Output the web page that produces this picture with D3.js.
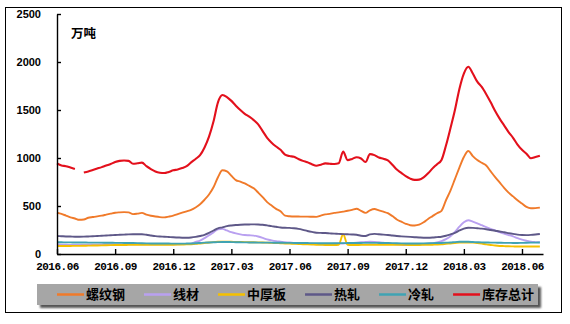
<!DOCTYPE html>
<html>
<head>
<meta charset="utf-8">
<script src="https://cdn.jsdelivr.net/npm/d3@7"></script>
<style>
  body { margin: 0; background: #fff; }
  svg { display: block; }
</style>
</head>
<body>
<div id="canvas"></div>
<script>
// weekly inventory, 10k tonnes
const names = ["螺纹钢", "线材", "中厚板", "热轧", "冷轧", "库存总计"];
const colors = ["#f07a2a", "#b9a0f0", "#f5c000", "#5e5888", "#3fa3b3", "#e3101c"];
const tickLabels = ["2016.06", "2016.09", "2016.12", "2017.03", "2017.06", "2017.09", "2017.12", "2018.03", "2018.06"];
const tickWeeks = [0, 13, 26, 39, 52, 65, 78, 91, 104];
const yTicks = [0, 500, 1000, 1500, 2000, 2500];

const rebar = [430, 418, 400, 382, 370, 356, 360, 378, 385, 392, 400, 410, 420, 430, 434, 436, 434, 415, 420, 428,
  410, 398, 390, 384, 382, 390, 400, 415, 430, 445, 460, 485, 518, 565, 620, 695, 800, 872, 860, 815,
  770, 755, 735, 710, 684, 640, 592, 540, 505, 470, 445, 400, 393, 390, 390, 389, 389, 388, 387, 400,
  413, 418, 428, 434, 442, 450, 460, 472, 450, 428, 455, 468, 455, 441, 425, 395, 360, 337, 315, 300,
  297, 305, 330, 365, 395, 425, 450, 560, 660, 780, 900, 1010, 1073, 1020, 979, 950, 922, 860, 800, 745,
  690, 640, 600, 560, 525, 490, 476, 478, 483];
const wire = [100, 98, 96, 95, 94, 94, 95, 96, 97, 98, 99, 100, 100, 100, 100, 100, 100, 100, 100, 100,
  100, 100, 100, 100, 100, 100, 101, 102, 103, 105, 108, 125, 140, 165, 195, 225, 258, 262, 245, 228,
  215, 205, 198, 195, 192, 182, 168, 152, 142, 134, 128, 122, 120, 115, 112, 110, 108, 106, 104, 102,
  102, 104, 106, 108, 110, 112, 115, 118, 122, 125, 128, 126, 122, 118, 112, 106, 100, 96, 94, 94,
  95, 98, 102, 106, 112, 120, 135, 155, 185, 230, 285, 330, 352, 338, 320, 300, 280, 262, 245, 228,
  212, 198, 184, 165, 150, 138, 128, 124, 122];
const plate = [83, 83, 84, 84, 85, 85, 86, 87, 88, 89, 90, 91, 92, 93, 94, 94, 95, 95, 96, 96,
  96, 96, 95, 95, 95, 96, 97, 98, 99, 100, 102, 105, 110, 115, 120, 124, 127, 128, 128, 127,
  126, 125, 124, 123, 122, 121, 120, 118, 116, 114, 112, 110, 108, 106, 104, 102, 100, 98, 96, 95,
  94, 94, 94, 96, 205, 96, 94, 94, 95, 95, 96, 96, 97, 97, 97, 96, 96, 95, 95, 94,
  94, 94, 95, 96, 97, 98, 100, 105, 110, 115, 118, 120, 120, 118, 114, 108, 100, 94, 88, 84,
  82, 80, 79, 78, 78, 78, 78, 78, 78];
const hotRolled = [187, 185, 183, 182, 180, 180, 181, 183, 185, 188, 190, 193, 195, 198, 200, 202, 204, 205, 205, 205,
  200, 193, 186, 182, 180, 177, 174, 172, 170, 170, 172, 178, 188, 200, 220, 245, 268, 278, 290, 297,
  302, 305, 307, 308, 309, 308, 305, 298, 290, 284, 276, 273, 272, 268, 262, 252, 240, 230, 222, 220,
  218, 215, 212, 210, 207, 205, 203, 200, 190, 187, 205, 210, 205, 202, 198, 192, 187, 184, 181, 178,
  175, 172, 170, 170, 172, 176, 180, 190, 205, 220, 245, 265, 274, 272, 268, 264, 258, 250, 242, 235,
  226, 218, 210, 202, 198, 197, 199, 203, 208];
const coldRolled = [122, 122, 121, 121, 120, 120, 120, 119, 119, 118, 118, 117, 117, 116, 116, 115, 115, 114, 113, 112,
  111, 110, 110, 110, 109, 109, 108, 108, 108, 109, 110, 112, 115, 118, 120, 122, 124, 125, 125, 124,
  123, 122, 121, 120, 120, 119, 119, 118, 118, 117, 117, 116, 116, 115, 115, 114, 114, 113, 113, 112,
  112, 112, 112, 113, 113, 114, 114, 115, 115, 116, 116, 116, 115, 115, 114, 113, 112, 111, 110, 110,
  110, 110, 111, 112, 113, 114, 115, 118, 120, 124, 127, 128, 127, 125, 123, 121, 120, 119, 118, 117,
  116, 116, 115, 115, 116, 117, 118, 119, 120];
const total = [945, 922, 915, 900, 885, null, 848, 860, 875, 890, 905, 922, 938, 958, 970, 974, 970, 940, 945, 952,
  915, 885, 860, 847, 843, 855, 872, 880, 895, 915, 955, 990, 1030, 1110, 1222, 1380, 1580, 1656, 1635, 1595,
  1545, 1500, 1460, 1430, 1395, 1350, 1280, 1210, 1160, 1120, 1085, 1035, 1020, 1012, 990, 970, 955, 935, 920, 930,
  944, 940, 937, 945, 1066, 978, 990, 1008, 995, 958, 1040, 1030, 1005, 992, 975, 930, 880, 845, 810, 785,
  772, 775, 798, 840, 892, 935, 980, 1130, 1310, 1500, 1720, 1880, 1951, 1880, 1795, 1740, 1665, 1580, 1490, 1410,
  1340, 1270, 1210, 1140, 1085, 1045, 997, 1010, 1024];

const series = [rebar, wire, plate, hotRolled, coldRolled, total];

const width = 570;
const height = 324;
const margin = { top: 14, left: 57, bottom: 70, right: 24 };

const svg = d3.select("#canvas").append("svg")
  .attr("width", width)
  .attr("height", height);

// outer frame
svg.append("rect")
  .attr("x", 5.5).attr("y", 7.5)
  .attr("width", 556).attr("height", 305)
  .attr("fill", "none")
  .attr("stroke", "#000")
  .attr("stroke-width", 1);

const x = d3.scaleLinear()
  .domain([0, 108.7])
  .range([margin.left, width - margin.right - 3]);

const y = d3.scaleLinear()
  .domain([0, 2500])
  .range([254, margin.top]);

// lines
const line = d3.line()
  .defined(d => d != null)
  .x((d, i) => x(i))
  .y(d => y(d))
  .curve(d3.curveMonotoneX);

svg.append("g")
  .selectAll("path")
  .data(series)
  .join("path")
  .attr("fill", "none")
  .attr("stroke", (d, i) => colors[i])
  .attr("stroke-width", (d, i) => i == 5 ? 2.1 : 1.9)
  .attr("stroke-linejoin", "round")
  .attr("d", d => line(d));

// axes
const yAxis = svg.append("g")
  .attr("transform", `translate(${margin.left},0)`)
  .call(d3.axisLeft(y).tickValues(yTicks).tickFormat(d3.format("d"))
    .tickSizeInner(-4).tickSizeOuter(0).tickPadding(16));

const xAxis = svg.append("g")
  .attr("transform", `translate(0,${y(0)})`)
  .call(d3.axisBottom(x)
    .tickValues(tickWeeks)
    .tickFormat((d, i) => tickLabels[i])
    .tickSizeInner(-5).tickSizeOuter(0).tickPadding(8));

svg.selectAll(".domain, .tick line")
  .attr("stroke", "#000")
  .attr("stroke-width", 1.4);

yAxis.selectAll("text")
  .attr("font-family", "'Liberation Sans', Arial, sans-serif")
  .attr("font-weight", "bold")
  .attr("font-size", 11)
  .attr("fill", "#000");

xAxis.selectAll("text")
  .attr("font-family", "'Liberation Mono', monospace")
  .attr("font-weight", "bold")
  .attr("font-size", 11)
  .attr("letter-spacing", -0.5)
  .attr("fill", "#000");

// unit label
svg.append("text")
  .attr("x", 71).attr("y", 38)
  .attr("font-family", "'Noto Sans CJK SC', sans-serif")
  .attr("font-weight", "bold")
  .attr("font-size", 12.5)
  .text("万吨");

// legend
const defs = svg.append("defs");
defs.append("filter").attr("id", "shadow")
  .append("feGaussianBlur").attr("stdDeviation", 1.2);

const legend = svg.append("g");
legend.append("rect")
  .attr("x", 40).attr("y", 287)
  .attr("width", 501).attr("height", 21)
  .attr("fill", "#555")
  .attr("filter", "url(#shadow)");
legend.append("rect")
  .attr("x", 37).attr("y", 284)
  .attr("width", 501).attr("height", 21)
  .attr("fill", "#a6a6a6");

let lx = 57;
names.forEach((name, i) => {
  legend.append("line")
    .attr("x1", lx).attr("x2", lx + 27)
    .attr("y1", 294.5).attr("y2", 294.5)
    .attr("stroke", colors[i])
    .attr("stroke-width", 2.5);
  const t = legend.append("text")
    .attr("x", lx + 29).attr("y", 299)
    .attr("font-family", "'Noto Sans CJK SC', sans-serif")
    .attr("font-weight", "bold")
    .attr("font-size", 13)
    .attr("fill", "#000")
    .text(name);
  lx += 29 + t.node().getComputedTextLength() + 19;
});
</script>
</body>
</html>
